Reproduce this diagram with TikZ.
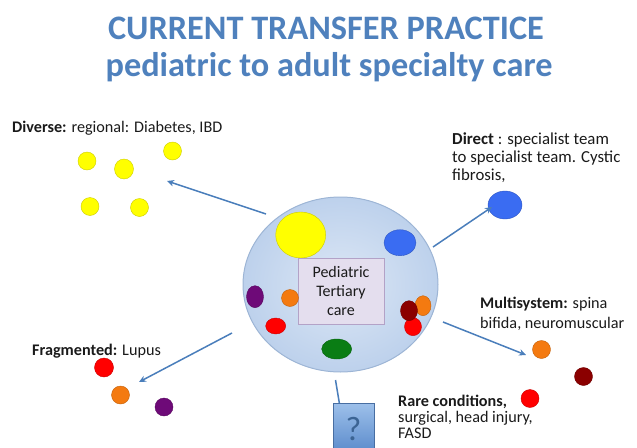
\documentclass[tikz,border=0pt]{standalone}
\usepackage{fontspec}
\setmainfont{Carlito}
\usetikzlibrary{shapes.geometric,arrows.meta}
\definecolor{titleblue}{HTML}{4F81BD}
\definecolor{arrowblue}{HTML}{4A7EBB}
\definecolor{hubin}{HTML}{DCE7F5}
\definecolor{hubout}{HTML}{BDD1EC}
\definecolor{hubline}{HTML}{9DB5D5}
\definecolor{boxfill}{HTML}{E4DEEE}
\definecolor{boxline}{HTML}{B3A2C7}
\definecolor{cyellow}{HTML}{FFFF00}
\definecolor{cblue}{HTML}{3A6CF2}
\definecolor{cpurple}{HTML}{6E0A78}
\definecolor{corange}{HTML}{F47A10}
\definecolor{cred}{HTML}{FF0000}
\definecolor{cgreen}{HTML}{0A7D14}
\definecolor{cdarkred}{HTML}{8B0000}
\definecolor{qtop}{HTML}{9DC0EA}
\definecolor{qbot}{HTML}{5A8ACB}
\definecolor{qmark}{HTML}{3C6494}
\definecolor{txt}{HTML}{1A1A1A}
\begin{document}
\begin{tikzpicture}[x=1pt,y=-1pt,
  blob/.style={ellipse, inner sep=0pt, fill=#1, draw=#1!80!black, line width=0.4pt},
  lbl/.style={anchor=base west, inner sep=0pt, text=txt, font=\fontsize{16.2}{19}\selectfont},
  ctr/.style={anchor=base, inner sep=0pt, text=txt, font=\fontsize{16}{19}\selectfont},
  ttl/.style={anchor=base, inner sep=0pt, text=titleblue, font=\fontsize{34.3}{40}\selectfont\bfseries},
  conn/.style={draw=arrowblue, line width=1.5pt, -{Stealth[length=7pt,width=6.5pt]}},
  stub/.style={draw=arrowblue, line width=1.5pt}]
\useasboundingbox (0,0) rectangle (637,447);

% title
\node[ttl] (t1) at (326,39) {CURRENT TRANSFER PRACTICE};
\node[ttl] (t2) at (329,76) {pediatric to adult specialty care};

% hub
\node[ellipse, minimum width=195pt, minimum height=175pt, inner color=hubin, outer color=hubout, draw=hubline, line width=1pt] (hub) at (340.5,284.5) {};
\node[blob=cyellow, minimum width=50pt, minimum height=46pt] (hy) at (300.7,235) {};
\node[blob=cblue, minimum width=32pt, minimum height=26pt] (hb) at (400,242.7) {};
\node[rectangle, fill=boxfill, draw=boxline, line width=0.8pt, minimum width=86pt, minimum height=66pt] (box) at (341,291) {};
\node[ctr] (b1) at (341,277) {Pediatric};
\node[ctr] (b2) at (341,296.5) {Tertiary};
\node[ctr] (b3) at (341,315) {care};
\node[blob=cpurple, minimum width=17pt, minimum height=22pt] (hp) at (255,296.7) {};
\node[blob=corange, minimum width=17pt, minimum height=17pt] (ho) at (290,298) {};
\node[blob=cred, minimum width=20pt, minimum height=16pt] (hr) at (275.7,326) {};
\node[blob=cgreen, minimum width=30pt, minimum height=20pt] (hg) at (336.7,349) {};
\node[blob=corange, minimum width=16pt, minimum height=20pt] (ho2) at (423,305.7) {};
\node[blob=cred, minimum width=17pt, minimum height=18pt] (hr2) at (413,326.7) {};
\node[blob=cdarkred, minimum width=17pt, minimum height=20pt] (hd) at (409,310.7) {};

% Diverse
\node[lbl] (dl) at (12,132.5) {\textbf{Diverse:} regional: Diabetes, IBD};
\node[blob=cyellow, minimum size=18pt] (y1) at (87,161) {};
\node[blob=cyellow, minimum width=19pt, minimum height=20pt] (y2) at (124,169) {};
\node[blob=cyellow, minimum size=18pt] (y3) at (172.5,151) {};
\node[blob=cyellow, minimum size=18pt] (y4) at (90,206.5) {};
\node[blob=cyellow, minimum size=18pt] (y5) at (139.5,207.5) {};

% Direct
\node[lbl, font=\fontsize{16.8}{19}\selectfont] (r1) at (452,144) {\textbf{Direct} : specialist team};
\node[lbl, font=\fontsize{16.8}{19}\selectfont] (r2) at (452,162) {to specialist team. Cystic};
\node[lbl, font=\fontsize{16.8}{19}\selectfont] (r3) at (452,180) {fibrosis,};
\node[blob=cblue, minimum width=34pt, minimum height=28pt] (rb) at (505,205) {};

% Fragmented
\node[lbl] (fl) at (32,355) {\textbf{Fragmented:} Lupus};
\node[blob=cred, minimum width=19pt, minimum height=19pt] (f1) at (104,367.5) {};
\node[blob=corange, minimum size=18pt] (f2) at (120.5,395) {};
\node[blob=cpurple, minimum size=18pt] (f3) at (164,407) {};

% Multisystem
\node[lbl] (m1) at (480,308) {\textbf{Multisystem:} spina};
\node[lbl] (m2) at (480,328) {bifida, neuromuscular};
\node[blob=corange, minimum size=18pt] (m3) at (541.5,349.5) {};
\node[blob=cdarkred, minimum size=18pt] (m4) at (583.5,376.5) {};
\node[blob=cred, minimum size=18pt] (m5) at (530,398.5) {};

% Rare
\node[lbl] (q1) at (398,406) {\textbf{Rare conditions,}};
\node[lbl] (q2) at (398,422) {surgical, head injury,};
\node[lbl] (q3) at (398,438.5) {FASD};

% question box
\coordinate (qs) at (335.5,380);
\coordinate (qe) at (339.5,404);
\draw[stub] (qs) -- (qe);
\node[rectangle, anchor=north west, minimum width=41pt, minimum height=50pt, top color=qtop, bottom color=qbot, draw=qbot!80!black, line width=0.4pt] (qbox) at (333,403) {};
\node[anchor=base, inner sep=0pt, text=qmark, font=\fontsize{34}{36}\selectfont] (qm) at (353.5,440) {?};

% connectors
\coordinate (a1s) at (266,214);
\coordinate (a1e) at (167,181);
\coordinate (a2s) at (433,247);
\coordinate (a2e) at (492,207);
\coordinate (a3s) at (232,333);
\coordinate (a3e) at (139,382);
\coordinate (a4s) at (443,322);
\coordinate (a4e) at (526,355);
\draw[conn] (a1s) -- (a1e);
\draw[conn] (a2s) -- (a2e);
\draw[conn] (a3s) -- (a3e);
\draw[conn] (a4s) -- (a4e);
\end{tikzpicture}
\end{document}
